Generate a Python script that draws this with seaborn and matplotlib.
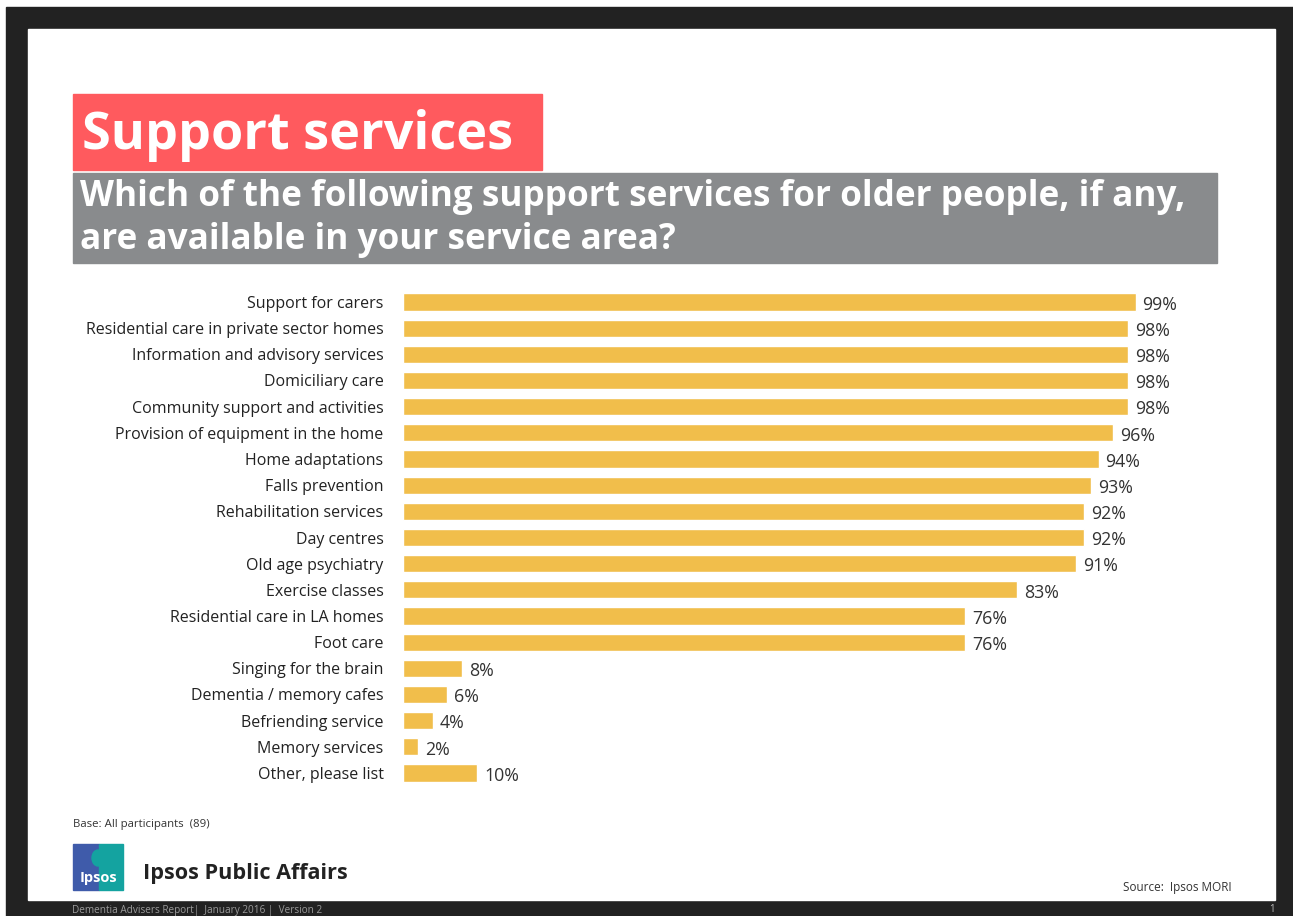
import numpy as np
import pandas as pd

import matplotlib
matplotlib.use("Agg")

import matplotlib.pyplot as plt
from matplotlib.patches import Rectangle, Ellipse
import seaborn as sns


services = [
    "Support for carers",
    "Residential care in private sector homes",
    "Information and advisory services",
    "Domiciliary care",
    "Community support and activities",
    "Provision of equipment in the home",
    "Home adaptations",
    "Falls prevention",
    "Rehabilitation services",
    "Day centres",
    "Old age psychiatry",
    "Exercise classes",
    "Residential care in LA homes",
    "Foot care",
    "Singing for the brain",
    "Dementia / memory cafes",
    "Befriending service",
    "Memory services",
    "Other, please list",
]
available = [99, 98, 98, 98, 98, 96, 94, 93, 92, 92, 91, 83, 76, 76, 8, 6, 4, 2, 10]

W, H = 1293, 916
BAR = "#F1BE4B"
RED = "#FF5A5E"
GREY = "#898B8D"
DARK = "#222222"

sns.set_style("white")
plt.rcParams["font.family"] = ["Open Sans", "DejaVu Sans"]

fig = plt.figure(figsize=(W / 100, H / 100), dpi=100)

# page furniture drawn in pixel coordinates
bg = fig.add_axes([0, 0, 1, 1])
bg.set_xlim(0, W)
bg.set_ylim(H, 0)
bg.axis("off")

bg.add_patch(Rectangle((6, 7), W - 6, H - 7, color=DARK))
bg.add_patch(Rectangle((28, 29), 1275 - 28, 900 - 29, color="white"))
bg.add_patch(Rectangle((73, 94), 542 - 73, 170 - 94, color=RED))
bg.add_patch(Rectangle((73, 173), 1217 - 73, 263 - 173, color=GREY))

bg.text(82, 136, "Support services", color="white", fontsize=37.5, fontweight="bold",
        va="center", ha="left")
bg.text(80, 197, "Which of the following support services for older people, if any,",
        color="white", fontsize=25.3, fontweight="bold", va="center", ha="left")
bg.text(80, 240, "are available in your service area?",
        color="white", fontsize=25.3, fontweight="bold", va="center", ha="left")

bg.text(73, 825, "Base: All participants  (89)", color="#333333", fontsize=8.2,
        va="center", ha="left")

# Ipsos logo
bg.add_patch(Rectangle((73, 844), 26, 46, color="#3F5BAA"))
bg.add_patch(Rectangle((99, 844), 24, 46, color="#14A3A0"))
bg.add_patch(Ellipse((98, 858), 12, 16, color="#14A3A0"))
bg.text(98, 878, "Ipsos", color="white", fontsize=10.5, fontweight="bold",
        va="center", ha="center")
bg.text(143, 874, "Ipsos Public Affairs", color="#222222", fontsize=15.6,
        fontweight="bold", va="center", ha="left")

bg.text(1123, 888, "Source:  Ipsos MORI", color="#333333", fontsize=8.5,
        va="center", ha="left")
bg.text(72, 910, "Dementia Advisers Report|  January 2016 |  Version 2", color="#9A9A9A",
        fontsize=7.2, va="center", ha="left")
bg.text(1272, 910, "1", color="#BBBBBB", fontsize=7, va="center", ha="center")

# bar chart
step = (773 - 302) / (len(services) - 1)
top = 302 - step / 2
bottom = 773 + step / 2
ax = fig.add_axes([403 / W, 1 - bottom / H, 740 / W, (bottom - top) / H])

df = pd.DataFrame({"service": services, "available": available})
sns.barplot(data=df, x="available", y="service", orient="h", color=BAR,
            width=0.66, saturation=1, ax=ax)
ax.set_xlim(0, 100)
ax.set_ylim(len(services) - 0.5, -0.5)
ax.set_xlabel("")
ax.set_ylabel("")
ax.set_xticks([])
ax.tick_params(axis="y", length=0, pad=14, labelsize=11.5, labelcolor="#222222")
ax.patch.set_alpha(0)
sns.despine(ax=ax, left=True, bottom=True)

labels = ax.bar_label(ax.containers[0], labels=[f"{v}%" for v in available], padding=5,
                      fontsize=12.8, color="#333333")
for lab in labels:
    lab.xyann = (5, -2)

fig.savefig("out.png", dpi=100)
plt.close(fig)
